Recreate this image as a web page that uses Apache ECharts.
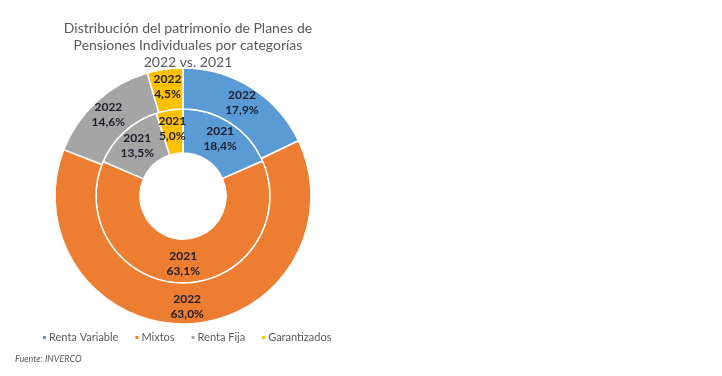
<!DOCTYPE html>
<html>
<head>
<meta charset="utf-8">
<script src="https://cdn.jsdelivr.net/npm/echarts@6/dist/echarts.min.js"></script>
<style>
  html, body { margin: 0; padding: 0; background: #fff; }
  #chart { width: 722px; height: 376px; }
</style>
</head>
<body>
<div id="chart"></div>
<script>
// datos
var categorias = ['Renta Variable', 'Mixtos', 'Renta Fija', 'Garantizados'];
var datos2022 = [17.9, 63.0, 14.6, 4.5];
var datos2021 = [18.4, 63.1, 13.5, 5.0];
var colores = ['#5B9BD5', '#ED7D31', '#A5A5A5', '#FFC000'];

function toData(vals) {
  var out = [];
  for (var i = 0; i < categorias.length; i++) {
    out.push({ name: categorias[i], value: vals[i] });
  }
  return out;
}

function etiqueta(p) {
  return p.seriesName + '\n' + p.value.toFixed(1).replace('.', ',') + '%';
}

var estiloEtiqueta = {
  position: 'inside',
  formatter: etiqueta,
  fontFamily: 'Lato',
  fontWeight: 'bold',
  fontSize: 12,
  lineHeight: 15,
  color: '#1c1d2b'
};

var chart = echarts.init(document.getElementById('chart'));
chart.setOption({
  color: colores,
  animation: false,
  title: [{
    text: 'Distribución del patrimonio de Planes de\nPensiones Individuales por categorías\n2022 vs. 2021',
    left: 183,
    top: 15,
    textAlign: 'center',
    textStyle: {
      fontFamily: 'Lato',
      fontWeight: 'normal',
      fontSize: 14,
      lineHeight: 17,
      color: '#595959'
    }
  }, {
    text: 'Fuente: INVERCO',
    left: 10,
    top: 350,
    textStyle: {
      fontFamily: 'Lato',
      fontStyle: 'italic',
      fontWeight: 'normal',
      fontSize: 9,
      color: '#595959'
    }
  }],
  legend: {
    data: categorias,
    left: 41,
    top: 332,
    padding: 0,
    icon: 'rect',
    itemWidth: 5,
    itemHeight: 5,
    itemGap: 15,
    textStyle: {
      fontFamily: 'Lato',
      fontSize: 11,
      color: '#595959',
      padding: [0, 0, 0, -3]
    }
  },
  series: [{
    name: '2021',
    type: 'pie',
    center: [183, 196],
    radius: [43, 87],
    startAngle: 90,
    clockwise: true,
    label: estiloEtiqueta,
    labelLine: { show: false },
    itemStyle: { borderColor: '#fff', borderWidth: 1.5 },
    emphasis: { disabled: true },
    data: toData(datos2021)
  }, {
    name: '2022',
    type: 'pie',
    center: [183, 196],
    radius: [87, 128],
    startAngle: 90,
    clockwise: true,
    label: estiloEtiqueta,
    labelLine: { show: false },
    itemStyle: { borderColor: '#fff', borderWidth: 1.5 },
    emphasis: { disabled: true },
    data: toData(datos2022)
  }]
});
</script>
</body>
</html>
